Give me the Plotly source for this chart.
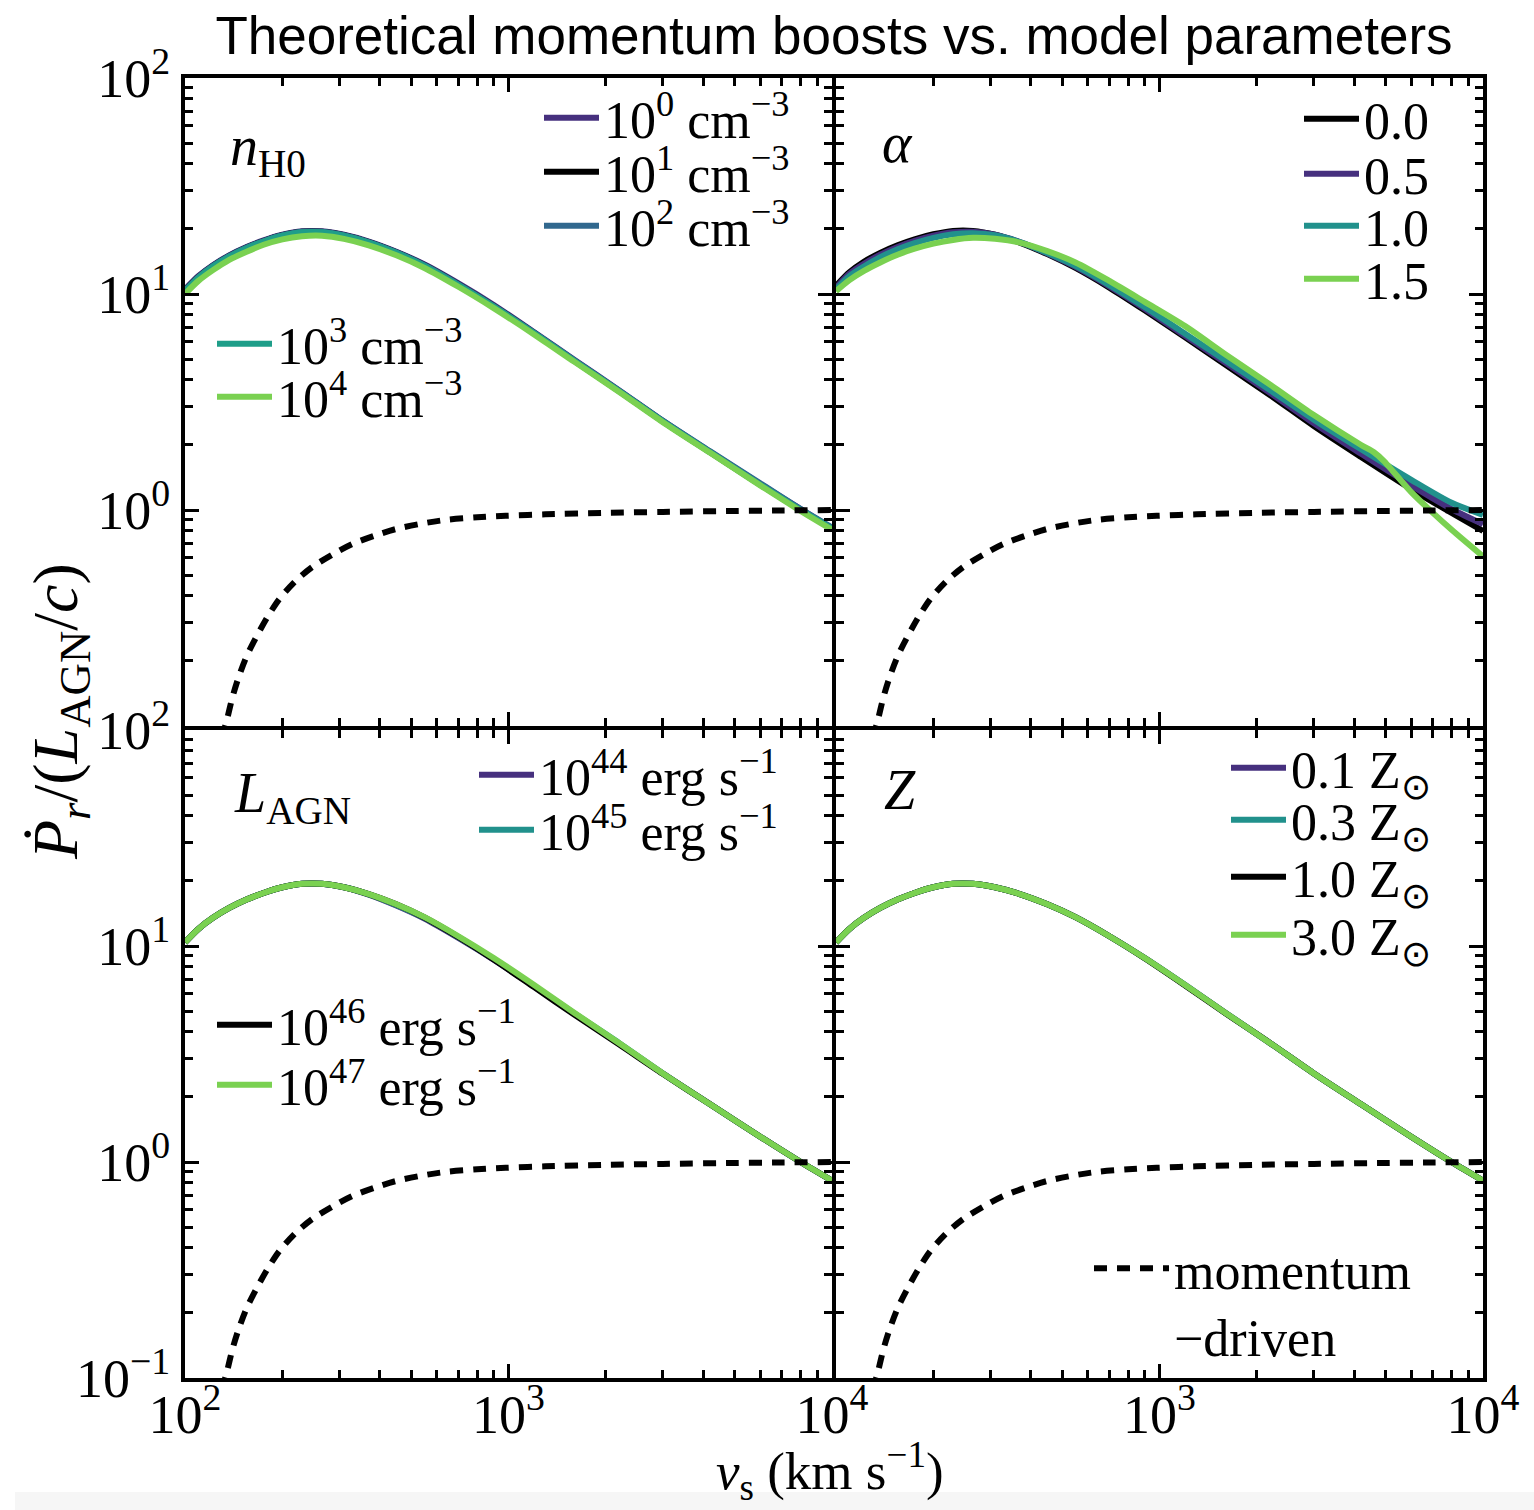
import plotly.graph_objects as go
from plotly.subplots import make_subplots

# ---------------- data ----------------
V = [100, 110, 122, 137, 155, 175, 200, 230, 265, 310, 370, 450, 550,
     700, 900, 1200, 1600, 2200, 3000, 4200, 6000, 8000, 10000]

# panel n_H0
NH_1E0 = [10.5, 12.1, 13.6, 15.1, 16.5, 17.7, 18.8, 19.5, 19.5, 18.8, 17.5, 15.7, 13.7,
          11.2, 8.9, 6.65, 4.95, 3.58, 2.59, 1.86, 1.32, 1.01, 0.82]
NH_1E1 = [10.4, 12.0, 13.5, 15.0, 16.4, 17.6, 18.7, 19.4, 19.4, 18.7, 17.4, 15.6, 13.6,
          11.1, 8.8, 6.6, 4.9, 3.55, 2.57, 1.85, 1.31, 1.0, 0.82]
NH_1E2 = [10.4, 12.0, 13.5, 15.0, 16.4, 17.6, 18.7, 19.4, 19.4, 18.7, 17.4, 15.6, 13.6,
          11.1, 8.8, 6.62, 4.93, 3.57, 2.59, 1.87, 1.33, 1.01, 0.83]
NH_1E3 = [10.3, 11.9, 13.4, 14.9, 16.3, 17.5, 18.6, 19.3, 19.3, 18.6, 17.3, 15.5, 13.5,
          11.0, 8.75, 6.58, 4.9, 3.55, 2.57, 1.85, 1.31, 1.0, 0.82]
NH_1E4 = [10.0, 11.5, 12.9, 14.4, 15.7, 16.9, 17.9, 18.5, 18.6, 18.0, 16.8, 15.1, 13.2,
          10.8, 8.6, 6.5, 4.85, 3.52, 2.55, 1.84, 1.3, 0.99, 0.81]

# panel alpha
AL_00 = [10.9, 12.6, 14.1, 15.5, 16.8, 17.9, 18.9, 19.6, 19.6, 18.8, 17.3, 15.3, 13.2,
         10.7, 8.4, 6.3, 4.7, 3.4, 2.45, 1.76, 1.25, 0.97, 0.8]
AL_05 = [10.7, 12.4, 13.8, 15.2, 16.5, 17.6, 18.6, 19.3, 19.4, 18.8, 17.4, 15.4, 13.35,
         10.85, 8.55, 6.4, 4.8, 3.48, 2.52, 1.82, 1.3, 1.01, 0.86]
AL_10 = [10.5, 12.1, 13.4, 14.8, 16.1, 17.2, 18.2, 18.9, 19.1, 18.7, 17.4, 15.5, 13.5,
         11.0, 8.7, 6.55, 4.92, 3.58, 2.62, 1.91, 1.38, 1.08, 0.95]
V_AL_15 = [100, 110, 122, 137, 155, 175, 200, 230, 265, 310, 370, 450, 550,
           700, 900, 1200, 1600, 2200, 3000, 4200, 4600, 4950, 5250, 5600, 6000,
           7000, 8000, 10000]
AL_15 = [10.3, 11.6, 12.8, 14.0, 15.2, 16.2, 17.1, 17.8, 18.2, 18.0, 17.3, 15.8, 14.0,
         11.5, 9.2, 7.1, 5.25, 3.8, 2.75, 2.0, 1.85, 1.68, 1.52, 1.36, 1.21,
         0.97, 0.81, 0.61]

# panel L_AGN
LA_44 = [10.4, 12.0, 13.5, 15.0, 16.4, 17.6, 18.7, 19.4, 19.4, 18.7, 17.3, 15.4, 13.4,
         10.9, 8.65, 6.5, 4.85, 3.53, 2.57, 1.85, 1.31, 1.0, 0.82]
LA_45 = [10.4, 12.0, 13.5, 15.0, 16.4, 17.6, 18.7, 19.4, 19.4, 18.7, 17.35, 15.5, 13.5,
         11.0, 8.7, 6.52, 4.87, 3.55, 2.57, 1.85, 1.31, 1.0, 0.82]
LA_46 = [10.4, 12.0, 13.5, 15.0, 16.4, 17.6, 18.7, 19.4, 19.4, 18.7, 17.4, 15.6, 13.55,
         11.0, 8.65, 6.45, 4.8, 3.5, 2.56, 1.85, 1.31, 1.0, 0.82]
LA_47 = [10.4, 12.0, 13.5, 15.0, 16.4, 17.6, 18.7, 19.4, 19.4, 18.7, 17.4, 15.6, 13.6,
         11.1, 8.8, 6.6, 4.9, 3.55, 2.57, 1.85, 1.31, 1.0, 0.82]

# panel Z
Z_01 = [10.4, 12.0, 13.5, 15.0, 16.4, 17.6, 18.7, 19.4, 19.4, 18.7, 17.4, 15.6, 13.6,
        11.1, 8.8, 6.6, 4.9, 3.55, 2.57, 1.85, 1.31, 1.0, 0.82]
Z_03 = [10.4, 12.0, 13.5, 15.0, 16.4, 17.6, 18.7, 19.4, 19.4, 18.7, 17.4, 15.6, 13.6,
        11.1, 8.8, 6.6, 4.9, 3.55, 2.57, 1.85, 1.31, 1.0, 0.82]
Z_10 = [10.4, 12.0, 13.5, 15.0, 16.4, 17.6, 18.7, 19.4, 19.4, 18.7, 17.4, 15.6, 13.6,
        11.1, 8.78, 6.57, 4.88, 3.55, 2.57, 1.85, 1.31, 1.0, 0.82]
Z_30 = [10.4, 12.0, 13.5, 15.0, 16.4, 17.6, 18.7, 19.4, 19.4, 18.7, 17.4, 15.6, 13.6,
        11.1, 8.8, 6.6, 4.9, 3.55, 2.57, 1.85, 1.31, 1.0, 0.82]

# momentum-driven reference curve
MOM_V = [130, 135, 140, 146, 155, 167, 180, 196, 220, 248, 290, 330, 390, 450, 540,
         640, 800, 980, 1300, 2000, 3000, 5000, 7000, 10000]
MOM_P = [0.088, 0.108, 0.135, 0.166, 0.21, 0.262, 0.32, 0.388, 0.47, 0.546, 0.63,
         0.697, 0.765, 0.817, 0.865, 0.90, 0.925, 0.94, 0.955, 0.97, 0.98, 0.99,
         0.995, 1.0]

# tick label text (plain numbers mapped to power notation)
X_ALIAS_LEFT = {"100": "10<sup>2</sup>", "1000": "10<sup>3</sup>", "1,000": "10<sup>3</sup>",
                "10000": "10<sup>4</sup>", "10,000": "10<sup>4</sup>"}
X_ALIAS_RIGHT = {"100": "", "1000": "10<sup>3</sup>", "1,000": "10<sup>3</sup>",
                 "10000": "10<sup>4</sup>", "10,000": "10<sup>4</sup>"}
Y_ALIAS_TOP = {"0.1": "", "1": "10<sup>0</sup>", "10": "10<sup>1</sup>", "100": "10<sup>2</sup>"}
Y_ALIAS_BOTTOM = {"0.1": "10<sup>−1</sup>", "1": "10<sup>0</sup>", "10": "10<sup>1</sup>",
                  "100": "10<sup>2</sup>"}

# ---------------- styling ----------------
PURPLE = "#46307e"
BLUE = "#31688e"
TEAL = "#21918c"
TEALGREEN = "#1f9e89"
GREEN = "#7ad151"
BLACK = "#000000"
SERIF = "Liberation Serif"

W, H = 1534, 1510
L, R, T, B = 185, 1483, 78, 1378
PW, PH = R - L, B - T


def pxx(px):
    return (px - L) / PW


def pxy(py):
    return (B - py) / PH


fig = make_subplots(rows=2, cols=2, horizontal_spacing=0, vertical_spacing=0)

entries = [
    # (row, col, x, y, color, name, sample_left_px, sample_center_px)
    (1, 1, V, NH_1E0, PURPLE, "10<sup>0</sup> cm<sup>−3</sup>", 545, 118),
    (1, 1, V, NH_1E1, BLACK, "10<sup>1</sup> cm<sup>−3</sup>", 545, 172),
    (1, 1, V, NH_1E2, BLUE, "10<sup>2</sup> cm<sup>−3</sup>", 545, 226),
    (1, 1, V, NH_1E3, TEALGREEN, "10<sup>3</sup> cm<sup>−3</sup>", 218, 344),
    (1, 1, V, NH_1E4, GREEN, "10<sup>4</sup> cm<sup>−3</sup>", 218, 397),
    (1, 2, V, AL_00, BLACK, "0.0", 1305, 119),
    (1, 2, V, AL_05, PURPLE, "0.5", 1305, 174),
    (1, 2, V, AL_10, TEAL, "1.0", 1305, 226),
    (1, 2, V_AL_15, AL_15, GREEN, "1.5", 1305, 279),
    (2, 1, V, LA_44, PURPLE, "10<sup>44</sup> erg s<sup>−1</sup>", 480, 775),
    (2, 1, V, LA_45, TEAL, "10<sup>45</sup> erg s<sup>−1</sup>", 480, 830),
    (2, 1, V, LA_46, BLACK, "10<sup>46</sup> erg s<sup>−1</sup>", 218, 1025),
    (2, 1, V, LA_47, GREEN, "10<sup>47</sup> erg s<sup>−1</sup>", 218, 1085),
    (2, 2, V, Z_01, PURPLE, "0.1 Z<sub>⊙</sub>", 1232, 768),
    (2, 2, V, Z_03, TEAL, "0.3 Z<sub>⊙</sub>", 1232, 820),
    (2, 2, V, Z_10, BLACK, "1.0 Z<sub>⊙</sub>", 1232, 877),
    (2, 2, V, Z_30, GREEN, "3.0 Z<sub>⊙</sub>", 1232, 935),
]

legends = {}
LEG_FONT = 52
for i, (r, c, xs, ys, col, name, lx, cy) in enumerate(entries):
    lname = "legend" if i == 0 else f"legend{i + 1}"
    fig.add_trace(go.Scatter(x=xs, y=ys, mode="lines", name=name,
                             line=dict(color=col, width=6, shape="spline", smoothing=0.8),
                             legend=lname, showlegend=True), row=r, col=c)
    legends[lname] = dict(x=pxx(lx - 6), y=pxy(cy), xanchor="left", yanchor="middle",
                          bgcolor="rgba(0,0,0,0)", borderwidth=0, itemwidth=55,
                          font=dict(family=SERIF, size=LEG_FONT, color="black"),
                          tracegroupgap=0)

# momentum-driven dashed curve in every panel
mom_legend = f"legend{len(entries) + 1}"
for r in (1, 2):
    for c in (1, 2):
        show = (r == 2 and c == 2)
        fig.add_trace(go.Scatter(x=MOM_V, y=MOM_P, mode="lines", name="momentum<br>−driven",
                                 line=dict(color="black", width=6, dash="13px,10px",
                                           shape="spline", smoothing=0.8),
                                 legend=mom_legend, showlegend=show), row=r, col=c)
legends[mom_legend] = dict(x=pxx(1095 - 6), y=pxy(1270 - 42), xanchor="left", yanchor="top",
                           bgcolor="rgba(0,0,0,0)", borderwidth=0, itemwidth=75,
                           valign="top",
                           font=dict(family=SERIF, size=52, color="black"))

# ---------------- axes ----------------
common = dict(type="log", showline=True, linewidth=4, linecolor="black", mirror="allticks",
              ticks="inside", ticklen=14, tickwidth=3, tickcolor="black",
              tickmode="linear", tick0=0, dtick=1, exponentformat="none",
              separatethousands=False, automargin=False,
              showgrid=False, zeroline=False,
              minor=dict(ticks="inside", ticklen=8, tickwidth=3, tickcolor="black",
                         dtick="D1", showgrid=False),
              tickfont=dict(family=SERIF, size=54, color="black"))

for r in (1, 2):
    for c in (1, 2):
        fig.update_xaxes(range=[2, 4],
                         labelalias=X_ALIAS_LEFT if c == 1 else X_ALIAS_RIGHT,
                         ticklabelstandoff=-14,
                         showticklabels=(r == 2), row=r, col=c, **common)
        fig.update_yaxes(range=[-1, 2],
                         labelalias=Y_ALIAS_TOP if r == 1 else Y_ALIAS_BOTTOM,
                         showticklabels=(c == 1), row=r, col=c, **common)

# panels separated by exactly one axis-line width so the shared borders coincide
gap = 2 / PW
gap_y = 2 / PH
fig.update_layout(
    xaxis=dict(domain=[0, 0.5 - gap]), xaxis3=dict(domain=[0, 0.5 - gap]),
    xaxis2=dict(domain=[0.5 + gap, 1]), xaxis4=dict(domain=[0.5 + gap, 1]),
    yaxis=dict(domain=[0.5 + gap_y, 1]), yaxis2=dict(domain=[0.5 + gap_y, 1]),
    yaxis3=dict(domain=[0, 0.5 - gap_y]), yaxis4=dict(domain=[0, 0.5 - gap_y]),
)

# ---------------- annotations ----------------
ann_font = dict(family=SERIF, size=56, color="black")
annotations = [
    dict(text="<i>n</i><sub>H0</sub>", x=pxx(228), y=pxy(150), xanchor="left", yanchor="middle"),
    dict(text="<i>α</i>", x=pxx(880), y=pxy(143), xanchor="left", yanchor="middle"),
    dict(text="<i>L</i><sub>AGN</sub>", x=pxx(232), y=pxy(797), xanchor="left", yanchor="middle"),
    dict(text="<i>Z</i>", x=pxx(882), y=pxy(790), xanchor="left", yanchor="middle"),
    dict(text="<i>Ṗ</i><sub><i>r</i></sub>/(<i>L</i><sub>AGN</sub>/<i>c</i>)",
         x=pxx(60), y=pxy(712), xanchor="center", yanchor="middle", textangle=-90,
         font=dict(family=SERIF, size=64, color="black")),
    dict(text="<i>v</i><sub>s</sub> (km s<sup>−1</sup>)",
         x=pxx(830), y=pxy(1471), xanchor="center", yanchor="middle",
         font=dict(family=SERIF, size=53, color="black")),
]
for a in annotations:
    a.update(xref="paper", yref="paper", showarrow=False)
    a.setdefault("font", ann_font)

fig.update_layout(
    width=W, height=H,
    margin=dict(l=L, r=W - R, t=T, b=H - B, autoexpand=False),
    paper_bgcolor="white", plot_bgcolor="white",
    title=dict(text="Theoretical momentum boosts vs. model parameters",
               x=0.5, xref="paper", xanchor="center",
               y=1 - 35 / H, yref="container", yanchor="middle",
               font=dict(family="Liberation Sans", size=53, color="black")),
    annotations=annotations,
    shapes=[dict(type="rect", xref="paper", yref="paper",
                 x0=pxx(15), x1=pxx(W + 5), y0=pxy(1492), y1=pxy(W + 20),
                 fillcolor="#f6f6f6", line=dict(width=0), layer="below")],
    **legends,
)

fig.write_html("out.html")
